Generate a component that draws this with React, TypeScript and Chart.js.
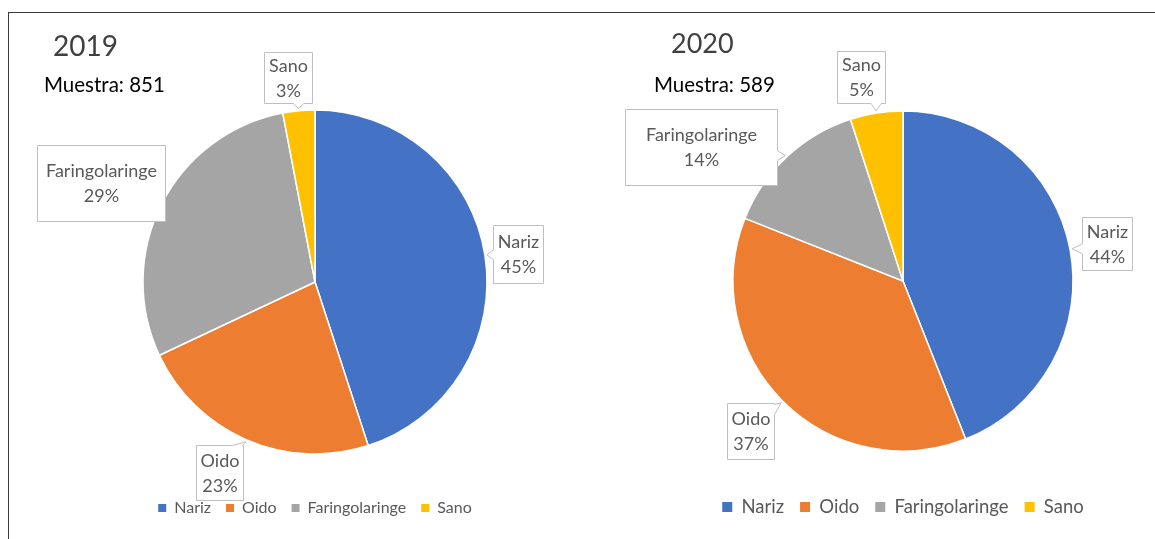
import React, { useEffect, useRef } from 'react';
import { Chart, registerables } from 'chart.js';

Chart.register(...registerables);

// ---------- data ----------
const categories = ['Nariz', 'Oido', 'Faringolaringe', 'Sano'];
const values2019 = [45, 23, 29, 3];
const values2020 = [44, 37, 14, 5];
const sample2019 = 851;
const sample2020 = 589;

// ---------- styles ----------
const sliceColors = ['#4472C4', '#ED7D31', '#A5A5A5', '#FFC000'];
const FONT = 'Lato';

type Box = { dx: number; dy: number; w: number; h: number };

const layout2019 = {
  left: 0,
  width: 630,
  radius: 172,
  padTop: 79,
  padBottom: 13,
  legendFont: 16,
  legendBox: 8,
  legendPad: 15,
  calloutFont: 18,
  boxes: [
    { dx: 31, dy: -1, w: 50, h: 58 },
    { dx: -26, dy: 31, w: 47, h: 55 },
    { dx: -59, dy: -20, w: 128, h: 76 },
    { dx: -11, dy: -31, w: 48, h: 51 },
  ] as Box[],
};

const layout2020 = {
  left: 600,
  width: 606,
  radius: 170,
  padTop: 80.25,
  padBottom: 12.75,
  legendFont: 18.5,
  legendBox: 10,
  legendPad: 16,
  calloutFont: 18,
  boxes: [
    { dx: 35, dy: -5, w: 50, h: 53 },
    { dx: -31, dy: 28, w: 47, h: 56 },
    { dx: -84, dy: -9, w: 152, h: 76 },
    { dx: -15, dy: -34, w: 48, h: 52 },
  ] as Box[],
};

const clamp = (v: number, a: number, b: number) => Math.max(a, Math.min(b, v));

const calloutPlugin = {
  id: 'callouts',
  afterDatasetsDraw(chart: any, _args: any, opts: any) {
    const { ctx } = chart;
    const meta = chart.getDatasetMeta(0);
    const data = chart.data.datasets[0].data as number[];
    const labels = chart.data.labels as string[];
    ctx.save();
    meta.data.forEach((arc: any, i: number) => {
      const p = arc.getProps(['x', 'y', 'startAngle', 'endAngle', 'outerRadius'], true);
      const mid = (p.startAngle + p.endAngle) / 2;
      const tr = p.outerRadius + 2;
      const tx = p.x + Math.cos(mid) * tr;
      const ty = p.y + Math.sin(mid) * tr;
      const b: Box = opts.boxes[i];
      const cx = tx + b.dx;
      const cy = ty + b.dy;
      const x0 = Math.round(cx - b.w / 2) + 0.5;
      const x1 = Math.round(cx + b.w / 2) + 0.5;
      const y0 = Math.round(cy - b.h / 2) + 0.5;
      const y1 = Math.round(cy + b.h / 2) + 0.5;
      const outL = x0 - tx, outR = tx - x1, outT = y0 - ty, outB = ty - y1;
      const m = Math.max(outL, outR, outT, outB);
      let side = '';
      if (m > 0) side = m === outL ? 'L' : m === outR ? 'R' : m === outT ? 'T' : 'B';
      const hw = 5;
      const pts: number[][] = [];
      pts.push([x0, y0]);
      if (side === 'T') {
        const bx = clamp(tx, x0 + hw + 1, x1 - hw - 1);
        pts.push([bx - hw, y0], [tx, ty], [bx + hw, y0]);
      }
      pts.push([x1, y0]);
      if (side === 'R') {
        const by = clamp(ty, y0 + hw + 1, y1 - hw - 1);
        pts.push([x1, by - hw], [tx, ty], [x1, by + hw]);
      }
      pts.push([x1, y1]);
      if (side === 'B') {
        const bx = clamp(tx, x0 + hw + 1, x1 - hw - 1);
        pts.push([bx + hw, y1], [tx, ty], [bx - hw, y1]);
      }
      pts.push([x0, y1]);
      if (side === 'L') {
        const by = clamp(ty, y0 + hw + 1, y1 - hw - 1);
        pts.push([x0, by + hw], [tx, ty], [x0, by - hw]);
      }
      ctx.beginPath();
      pts.forEach((pt, k) => (k === 0 ? ctx.moveTo(pt[0], pt[1]) : ctx.lineTo(pt[0], pt[1])));
      ctx.closePath();
      ctx.fillStyle = '#FFFFFF';
      ctx.fill();
      ctx.strokeStyle = '#BFBFBF';
      ctx.lineWidth = 1;
      ctx.stroke();

      ctx.fillStyle = '#595959';
      ctx.font = `${opts.font}px ${FONT}`;
      ctx.textAlign = 'center';
      ctx.textBaseline = 'middle';
      const mx = (x0 + x1) / 2;
      const my = (y0 + y1) / 2;
      ctx.fillText(String(labels[i]), mx, my - 12);
      ctx.fillText(`${data[i]}%`, mx, my + 13);
    });
    ctx.restore();
  },
};

function makeChart(canvas: HTMLCanvasElement, values: number[], lay: typeof layout2019) {
  const baseGen = (Chart as any).overrides.doughnut.plugins.legend.labels.generateLabels;
  return new Chart(canvas, {
    type: 'pie',
    data: {
      labels: categories,
      datasets: [
        {
          data: values,
          backgroundColor: sliceColors,
          borderColor: '#FFFFFF',
          borderWidth: 1.5,
          radius: lay.radius,
        } as any,
      ],
    },
    options: {
      responsive: false,
      animation: false,
      layout: { padding: { top: lay.padTop, bottom: lay.padBottom, left: 0, right: 0 } },
      plugins: {
        tooltip: { enabled: false },
        legend: {
          display: true,
          position: 'bottom',
          labels: {
            color: '#595959',
            font: { family: FONT, size: lay.legendFont },
            boxWidth: lay.legendBox,
            boxHeight: lay.legendBox,
            padding: lay.legendPad,
            generateLabels: (chart: any) =>
              baseGen(chart).map((l: any) => ({ ...l, lineWidth: 0, strokeStyle: l.fillStyle })),
          },
        },
        callouts: { boxes: lay.boxes, font: lay.calloutFont },
      } as any,
    },
    plugins: [calloutPlugin as any],
  });
}

export default function App() {
  const ref1 = useRef<HTMLCanvasElement>(null);
  const ref2 = useRef<HTMLCanvasElement>(null);

  useEffect(() => {
    const c1 = makeChart(ref1.current!, values2019, layout2019);
    const c2 = makeChart(ref2.current!, values2020, layout2020);
    return () => {
      c1.destroy();
      c2.destroy();
    };
  }, []);

  const text = (s: string, left: number, top: number, size: number, color: string) => (
    <div
      style={{
        position: 'absolute',
        left,
        top,
        fontFamily: FONT,
        fontSize: size,
        lineHeight: 1.2,
        color,
        whiteSpace: 'nowrap',
        zIndex: 3,
      }}
    >
      {s}
    </div>
  );

  return (
    <div
      style={{
        position: 'fixed',
        left: 0,
        top: 0,
        width: 1155,
        height: 539,
        overflow: 'hidden',
        background: '#FFFFFF',
      }}
    >
      <div
        style={{
          position: 'absolute',
          left: 8,
          top: 12,
          width: 1200,
          height: 600,
          borderTop: '1.5px solid #3A3A3A',
          borderLeft: '1.5px solid #3A3A3A',
          boxSizing: 'border-box',
        }}
      />
      <canvas
        ref={ref1}
        width={layout2019.width}
        height={539}
        style={{ position: 'absolute', left: layout2019.left, top: 0, width: layout2019.width, height: 539, zIndex: 1 }}
      />
      <canvas
        ref={ref2}
        width={layout2020.width}
        height={539}
        style={{ position: 'absolute', left: layout2020.left, top: 0, width: layout2020.width, height: 539, zIndex: 2 }}
      />
      {text('2019', 53, 29, 28, '#404040')}
      {text(`Muestra: ${sample2019}`, 44, 72, 20.5, '#000000')}
      {text('2020', 671, 27, 27, '#404040')}
      {text(`Muestra: ${sample2020}`, 654, 72, 20.5, '#000000')}
    </div>
  );
}
